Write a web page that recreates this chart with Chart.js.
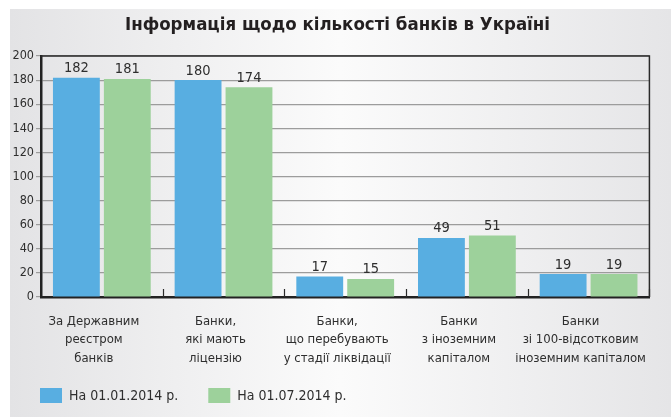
<!DOCTYPE html>
<html>
<head>
<meta charset="utf-8">
<script src="https://cdn.jsdelivr.net/npm/chart.js@4/dist/chart.umd.min.js"></script>
<style>
  html, body { margin: 0; padding: 0; background: #fff; }
  #wrap { width: 671px; height: 418px; position: relative; }
</style>
</head>
<body>
<div id="wrap"><canvas id="c"></canvas></div>
<script>
var title = 'Інформація щодо кількості банків в Україні';
var categories = [
  ['За Державним', 'реєстром', 'банків'],
  ['Банки,', 'які мають', 'ліцензію'],
  ['Банки,', 'що перебувають', 'у стадії ліквідації'],
  ['Банки', 'з іноземним', 'капіталом'],
  ['Банки', 'зі 100-відсотковим', 'іноземним капіталом']
];
var seriesNames = ['На 01.01.2014 р.', 'На 01.07.2014 р.'];
var jan2014 = [182, 180, 17, 49, 19];
var jul2014 = [181, 174, 15, 51, 19];
var yTicks = [0, 20, 40, 60, 80, 100, 120, 140, 160, 180, 200];

var FONT = "'Liberation Sans Narrow', 'DejaVu Sans Condensed', sans-serif";
var TEXT = '#2e2e2e';

// grey panel with a light centre, white margin top/left, plus the title
var panelBg = {
  id: 'panelBg',
  beforeDraw: function (chart) {
    var ctx = chart.ctx;
    ctx.save();
    ctx.fillStyle = '#ffffff';
    ctx.fillRect(0, 0, chart.width, chart.height);
    var g = ctx.createLinearGradient(10, 0, chart.width, 0);
    g.addColorStop(0, '#e3e3e5');
    g.addColorStop(0.5, '#fbfbfb');
    g.addColorStop(1, '#e5e5e7');
    ctx.fillStyle = g;
    ctx.fillRect(10, 9, chart.width - 10, chart.height - 10);
    ctx.font = 'bold 18.5px ' + FONT;
    ctx.fillStyle = '#231f20';
    ctx.textAlign = 'center';
    ctx.textBaseline = 'middle';
    ctx.fillText(title, 337.5, 25);
    ctx.restore();
  }
};

// top/right frame and small upward ticks between categories
var frame = {
  id: 'frame',
  afterDatasetsDraw: function (chart) {
    var a = chart.chartArea, ctx = chart.ctx, xs = chart.scales.x;
    ctx.save();
    ctx.strokeStyle = '#2a2a2a';
    ctx.lineWidth = 1.5;
    ctx.beginPath();
    ctx.moveTo(a.left, a.top);
    ctx.lineTo(a.right, a.top);
    ctx.lineTo(a.right, a.bottom);
    ctx.stroke();
    var step = xs.getPixelForValue(1) - xs.getPixelForValue(0);
    ctx.lineWidth = 1.2;
    for (var i = 1; i <= categories.length; i++) {
      var x = Math.round(xs.getPixelForValue(i) - step / 2) + 0.5;
      ctx.beginPath();
      ctx.moveTo(x, a.bottom);
      ctx.lineTo(x, a.bottom - 8);
      ctx.stroke();
    }
    ctx.restore();
  }
};

// value labels above the bars
var valueLabels = {
  id: 'valueLabels',
  afterDatasetsDraw: function (chart) {
    var ctx = chart.ctx;
    ctx.save();
    ctx.font = '14.5px ' + FONT;
    ctx.fillStyle = TEXT;
    ctx.textAlign = 'center';
    ctx.textBaseline = 'bottom';
    chart.data.datasets.forEach(function (ds, di) {
      chart.getDatasetMeta(di).data.forEach(function (bar, i) {
        ctx.fillText(ds.data[i], bar.x, bar.y - 2);
      });
    });
    ctx.restore();
  }
};

// legend row under the category labels
var legendRow = {
  id: 'legendRow',
  afterDraw: function (chart) {
    var ctx = chart.ctx;
    var x = 40, y = 395.5;
    ctx.save();
    ctx.font = '14px ' + FONT;
    ctx.textBaseline = 'middle';
    ctx.textAlign = 'left';
    chart.data.datasets.forEach(function (ds) {
      ctx.fillStyle = ds.backgroundColor;
      ctx.fillRect(x, y - 7.5, 22, 15);
      ctx.fillStyle = TEXT;
      ctx.fillText(ds.label, x + 29, y + 0.5);
      x += 29 + ctx.measureText(ds.label).width + 30;
    });
    ctx.restore();
  }
};

new Chart(document.getElementById('c'), {
  type: 'bar',
  data: {
    labels: categories,
    datasets: [
      { label: seriesNames[0], data: jan2014, backgroundColor: '#58aee1' },
      { label: seriesNames[1], data: jul2014, backgroundColor: '#9dd19b' }
    ]
  },
  options: {
    responsive: true,
    maintainAspectRatio: false,
    animation: false,
    categoryPercentage: 0.837,
    barPercentage: 0.92,
    layout: { padding: { left: 10, right: 21, top: 56, bottom: 49 } },
    plugins: {
      title: { display: false },
      legend: { display: false },
      tooltip: { enabled: false }
    },
    scales: {
      x: {
        afterFit: function (s) { s.height = 72; },
        grid: { display: false, drawTicks: false },
        border: { color: '#222', width: 2.5 },
        ticks: {
          color: TEXT,
          padding: 15,
          labelOffset: -8,
          maxRotation: 0,
          autoSkip: false,
          font: { family: FONT, size: 13, lineHeight: 1.42 }
        }
      },
      y: {
        min: 0,
        max: 200,
        afterFit: function (s) { s.width = 31; },
        afterBuildTicks: function (s) {
          s.ticks = yTicks.map(function (v) { return { value: v }; });
        },
        grid: { color: '#9c9c9c', lineWidth: 1.2, tickLength: 5 },
        border: { color: '#222', width: 2.5 },
        ticks: {
          color: TEXT,
          padding: 2,
          font: { family: FONT, size: 12.5 }
        }
      }
    }
  },
  plugins: [panelBg, frame, valueLabels, legendRow]
});
</script>
</body>
</html>
